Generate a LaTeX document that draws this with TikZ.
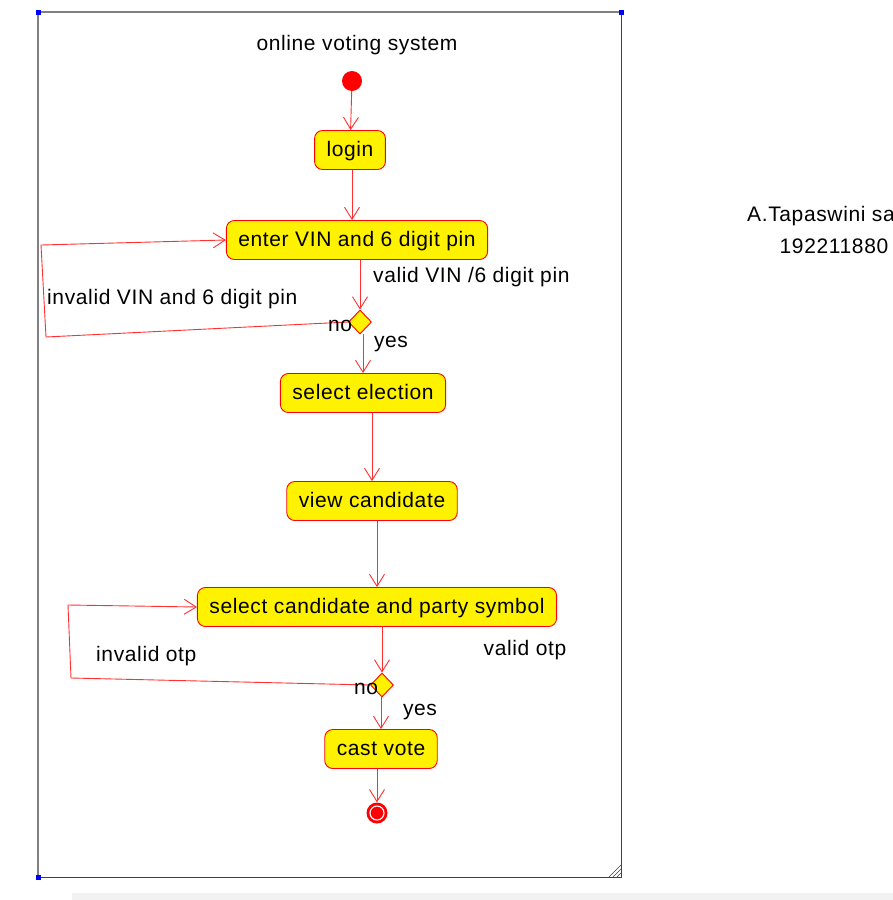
\documentclass[tikz,border=0pt]{standalone}
\usepackage{fontspec}
\setmainfont{Liberation Sans}[LetterSpace=3]
\usetikzlibrary{arrows.meta,shapes.geometric,calc}
\definecolor{flowred}{HTML}{FF3030}
\definecolor{framegray}{HTML}{808080}
\tikzset{
  activity/.style={draw=red, fill=yellow, rounded corners=8, line width=0.9,
    minimum height=39, inner xsep=12, inner ysep=0, text height=15, text depth=3},
  decision/.style={diamond, draw=red, fill=yellow, line width=0.9,
    minimum width=23, minimum height=24, inner sep=0},
  flow/.style={draw=flowred, line width=0.9, -{Straight Barb[length=12,width=15]}},
  lbl/.style={inner sep=0, text=black, yshift=-2},
}

\begin{document}
\begin{tikzpicture}[x=1pt, y=-1pt, font=\fontsize{21}{25}\selectfont]
\useasboundingbox (0,0) rectangle (893,900);
\fill[gray!10] (72,893) rectangle (893,900);

% frame
\draw[framegray, line width=1.6] (38,877) -- (38,12) -- (621,12);
\draw[black!75, line width=1] (38,877) -- (621,877) -- (621,12);
\foreach \p in {(38,12),(621,12),(38,877)}
  \fill[blue] \p ++(-2.5,-2.5) rectangle ++(5,5);
\foreach \k in {4,8,12}
  \draw[black!75, line width=0.6] (621-\k,877) -- (621,877-\k);

\node[lbl] (title) at (357,43) {online voting system};

% nodes
\node[circle, fill=red, minimum size=20, inner sep=0] (start) at (352,81) {};
\node[activity] (login) at (350,150) {login};
\node[activity] (enter) at (357,240) {enter VIN and 6 digit pin};
\node[decision] (dec1) at (360,322) {};
\node[activity] (election) at (363,393) {select election};
\node[activity] (view) at (372,501) {view candidate};
\node[activity] (select) at (377,607) {select candidate and party symbol};
\node[decision] (dec2) at (382,685) {};
\node[activity] (cast) at (381,749) {cast vote};
\node[circle, fill=red, minimum size=21, inner sep=0] (stop) at (377,813) {};
\draw[white, line width=1.1] (stop) circle (7);

% flows
\draw[flow] (start) -- (login);
\draw[flow] (login.south -| 352,0) -- (enter.north -| 352,0);
\draw[flow] (enter.south -| dec1) -- (dec1.north);
\draw[flow] (dec1.south -| election) -- (election.north);
\draw[flow] (election.south -| view) -- (view.north);
\draw[flow] (view.south -| select) -- (select.north);
\draw[flow] (select.south -| dec2) -- (dec2.north);
\draw[flow] (dec2.south -| cast) -- (cast.north);
\draw[flow] (cast.south -| stop) -- (stop.north);

% loops back
\coordinate (loopa1) at (46,337);
\coordinate (loopa2) at (41,245);
\draw[flow] (dec1.west) -- (loopa1) -- (loopa2) -- (enter.west);
\coordinate (loopb1) at (71,678);
\coordinate (loopb2) at (68,605);
\draw[flow] (dec2.west) -- (loopb1) -- (loopb2) -- (select.west);

% guards
\node[lbl, anchor=west] (validpin) at (373,275) {valid VIN /6 digit pin};
\node[lbl, anchor=west] (invalidpin) at (47,297) {invalid VIN and 6 digit pin};
\node[lbl] (no1) at (340,324) {no};
\node[lbl] (yes1) at (391,342) {yes};
\node[lbl] (validotp) at (525,648) {valid otp};
\node[lbl, anchor=west] (invalidotp) at (96,654) {invalid otp};
\node[lbl] (no2) at (366,687) {no};
\node[lbl] (yes2) at (420,710) {yes};

% author
\node[lbl, anchor=west] (author) at (747,214) {A.Tapaswini sa};
\node[lbl] (regno) at (834,244) {192211880};
\end{tikzpicture}
\end{document}
